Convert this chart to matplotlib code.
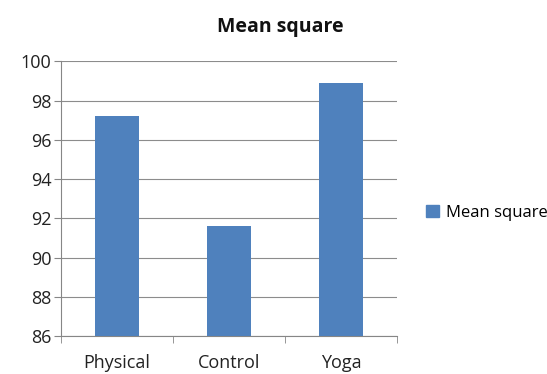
import numpy as np
import matplotlib as mpl
mpl.use('Agg')
import matplotlib.pyplot as plt
from matplotlib.patches import Patch

categories = ['Physical', 'Control', 'Yoga']
mean_square = [97.2, 91.6, 98.9]
yticks = [86, 88, 90, 92, 94, 96, 98, 100]

plt.rcParams['font.family'] = ['Open Sans', 'DejaVu Sans']

fig = plt.figure(figsize=(5.47, 3.74), dpi=100)
a = fig.add_axes([0.1115, 0.1016, 0.6143, 0.734])

x = np.arange(len(categories))
a.bar(x, mean_square, width=0.4, color='#4f81bd', zorder=3)

a.set_xlim(-0.5, len(categories) - 0.5)
a.set_ylim(86, 100)
a.set_yticks(yticks)
a.yaxis.grid(True, color='#8c8c8c', linewidth=0.8, zorder=0)

# category labels between boundary ticks, Excel-style
a.set_xticks(x)
a.set_xticklabels(categories, fontsize=13, color='#222222')
a.tick_params(axis='x', length=0, pad=13)
a.set_xticks(np.arange(-0.5, len(categories)), minor=True)
a.tick_params(axis='x', which='minor', length=5, color='#868686', direction='out')
a.tick_params(axis='y', length=5, color='#868686', labelsize=13, labelcolor='#222222', pad=2)

for s in ['top', 'right']:
    a.spines[s].set_visible(False)
for s in ['left', 'bottom']:
    a.spines[s].set_color('#868686')
    a.spines[s].set_linewidth(0.8)

fig.text(0.512, 0.928, 'Mean square', ha='center', va='center', fontsize=14, fontweight='bold', color='#111111')

fig.legend(handles=[Patch(color='#4f81bd', label='Mean square')], loc='center left',
           bbox_to_anchor=(0.752, 0.43), frameon=False, fontsize=12,
           handlelength=0.75, handleheight=0.75, handletextpad=0.4)

fig.savefig('out.png', dpi=100)
